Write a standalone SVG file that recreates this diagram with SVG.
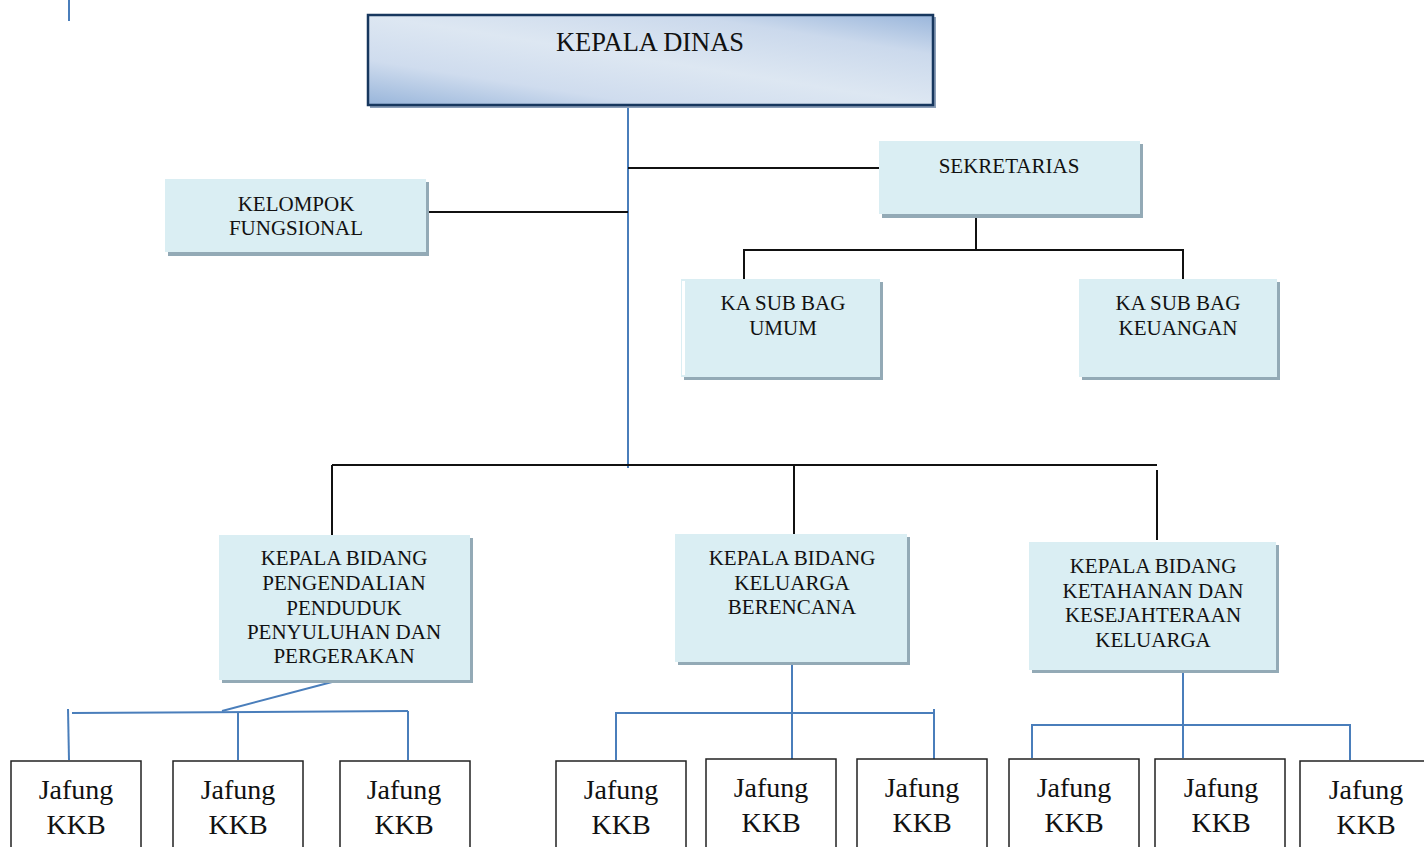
<svg xmlns="http://www.w3.org/2000/svg" width="1424" height="847" viewBox="0 0 1424 847">
<style>
text{font-family:"Liberation Serif","Times New Roman",serif;fill:#111;text-anchor:middle}
.t{font-size:21px}
.j{font-size:28px}
.box{fill:#daeef3}
.sh{fill:#93aab6}
.jb{fill:#fff;stroke:#222;stroke-width:1.5}
.k{stroke:#111;stroke-width:2;fill:none}
.b{stroke:#4a7ebb;stroke-width:2;fill:none}
</style>
<defs>
<linearGradient id="g" x1="0" y1="1" x2="1" y2="0">
<stop offset="0" stop-color="#98b5da"/>
<stop offset="0.25" stop-color="#cfdcee"/>
<stop offset="0.5" stop-color="#dde7f2"/>
<stop offset="0.78" stop-color="#cbd9ec"/>
<stop offset="1" stop-color="#9ab6db"/>
</linearGradient>
</defs>
<g id="connectors">
<line class="b" x1="69" y1="0" x2="69" y2="21"/>
<line class="b" x1="628" y1="105" x2="628" y2="468"/>
<line class="k" x1="628" y1="168" x2="879" y2="168"/>
<line class="k" x1="428" y1="212" x2="628" y2="212"/>
<polyline class="k" points="976,214 976,250"/>
<polyline class="k" points="744,279 744,250 1183,250 1183,279"/>
<line class="k" x1="332" y1="465" x2="1157" y2="465"/>
<line class="k" x1="332" y1="465" x2="332" y2="535"/>
<line class="k" x1="794" y1="465" x2="794" y2="534"/>
<line class="k" x1="1157" y1="470" x2="1157" y2="540"/>
<line class="b" x1="332" y1="682" x2="222" y2="711"/>
<line class="b" x1="72" y1="713" x2="408" y2="711"/>
<line class="b" x1="68" y1="709" x2="69" y2="760"/>
<line class="b" x1="238" y1="712" x2="238" y2="760"/>
<line class="b" x1="408" y1="711" x2="408" y2="760"/>
<line class="b" x1="792" y1="657" x2="792" y2="760"/>
<polyline class="b" points="616,760 616,713 934,713"/>
<line class="b" x1="934" y1="709" x2="934" y2="765"/>
<line class="b" x1="1183" y1="670" x2="1183" y2="758"/>
<polyline class="b" points="1032,758 1032,725 1350,725 1350,760"/>
</g>
<g id="kepala-dinas">
<rect x="370" y="17" width="566" height="91" fill="#8c9fb8"/>
<rect x="368" y="15" width="565" height="90" fill="url(#g)" stroke="#17375e" stroke-width="2.5"/>
<text x="650" y="51" style="font-size:26.5px">KEPALA DINAS</text>
</g>
<g id="kelompok-fungsional">
<rect class="sh" x="168" y="182" width="261" height="74"/>
<rect class="box" x="165" y="179" width="261" height="73"/>
<text class="t" x="296" y="211">KELOMPOK</text>
<text class="t" x="296" y="235">FUNGSIONAL</text>
</g>
<g id="sekretarias">
<rect class="sh" x="882" y="144" width="261" height="74"/>
<rect class="box" x="879" y="141" width="261" height="73"/>
<text class="t" x="1009" y="173">SEKRETARIAS</text>
</g>
<g id="ka-sub-bag-umum">
<rect class="sh" x="684" y="282" width="199" height="98"/>
<rect class="box" x="681" y="279" width="199" height="98"/>
<rect x="682" y="281" width="3" height="94" fill="#fff"/>
<text class="t" x="783" y="310">KA SUB BAG</text>
<text class="t" x="783" y="335">UMUM</text>
</g>
<g id="ka-sub-bag-keuangan">
<rect class="sh" x="1082" y="282" width="198" height="98"/>
<rect class="box" x="1079" y="279" width="198" height="98"/>
<text class="t" x="1178" y="310">KA SUB BAG</text>
<text class="t" x="1178" y="335">KEUANGAN</text>
</g>
<g id="bidang-pengendalian">
<rect class="sh" x="222" y="538" width="251" height="145"/>
<rect class="box" x="219" y="535" width="251" height="145"/>
<text class="t" x="344" y="565">KEPALA BIDANG</text>
<text class="t" x="344" y="590">PENGENDALIAN</text>
<text class="t" x="344" y="615">PENDUDUK</text>
<text class="t" x="344" y="639">PENYULUHAN DAN</text>
<text class="t" x="344" y="663">PERGERAKAN</text>
</g>
<g id="bidang-kb">
<rect class="sh" x="678" y="537" width="232" height="128"/>
<rect class="box" x="675" y="534" width="232" height="128"/>
<text class="t" x="792" y="565">KEPALA BIDANG</text>
<text class="t" x="792" y="590">KELUARGA</text>
<text class="t" x="792" y="614">BERENCANA</text>
</g>
<g id="bidang-ketahanan">
<rect class="sh" x="1032" y="545" width="247" height="128"/>
<rect class="box" x="1029" y="542" width="247" height="128"/>
<text class="t" x="1153" y="573">KEPALA BIDANG</text>
<text class="t" x="1153" y="598">KETAHANAN DAN</text>
<text class="t" x="1153" y="622">KESEJAHTERAAN</text>
<text class="t" x="1153" y="647">KELUARGA</text>
</g>
<g id="jafung-1"><rect class="jb" x="11" y="761" width="130" height="100"/><text class="j" x="76" y="799">Jafung</text><text class="j" x="76" y="834">KKB</text></g>
<g id="jafung-2"><rect class="jb" x="173" y="761" width="130" height="100"/><text class="j" x="238" y="799">Jafung</text><text class="j" x="238" y="834">KKB</text></g>
<g id="jafung-3"><rect class="jb" x="340" y="761" width="130" height="100"/><text class="j" x="404" y="799">Jafung</text><text class="j" x="404" y="834">KKB</text></g>
<g id="jafung-4"><rect class="jb" x="556" y="761" width="130" height="100"/><text class="j" x="621" y="799">Jafung</text><text class="j" x="621" y="834">KKB</text></g>
<g id="jafung-5"><rect class="jb" x="706" y="759" width="130" height="100"/><text class="j" x="771" y="797">Jafung</text><text class="j" x="771" y="832">KKB</text></g>
<g id="jafung-6"><rect class="jb" x="857" y="759" width="130" height="100"/><text class="j" x="922" y="797">Jafung</text><text class="j" x="922" y="832">KKB</text></g>
<g id="jafung-7"><rect class="jb" x="1009" y="759" width="130" height="100"/><text class="j" x="1074" y="797">Jafung</text><text class="j" x="1074" y="832">KKB</text></g>
<g id="jafung-8"><rect class="jb" x="1155" y="759" width="130" height="100"/><text class="j" x="1221" y="797">Jafung</text><text class="j" x="1221" y="832">KKB</text></g>
<g id="jafung-9"><rect class="jb" x="1300" y="761" width="130" height="100"/><text class="j" x="1366" y="799">Jafung</text><text class="j" x="1366" y="834">KKB</text></g>
</svg>
